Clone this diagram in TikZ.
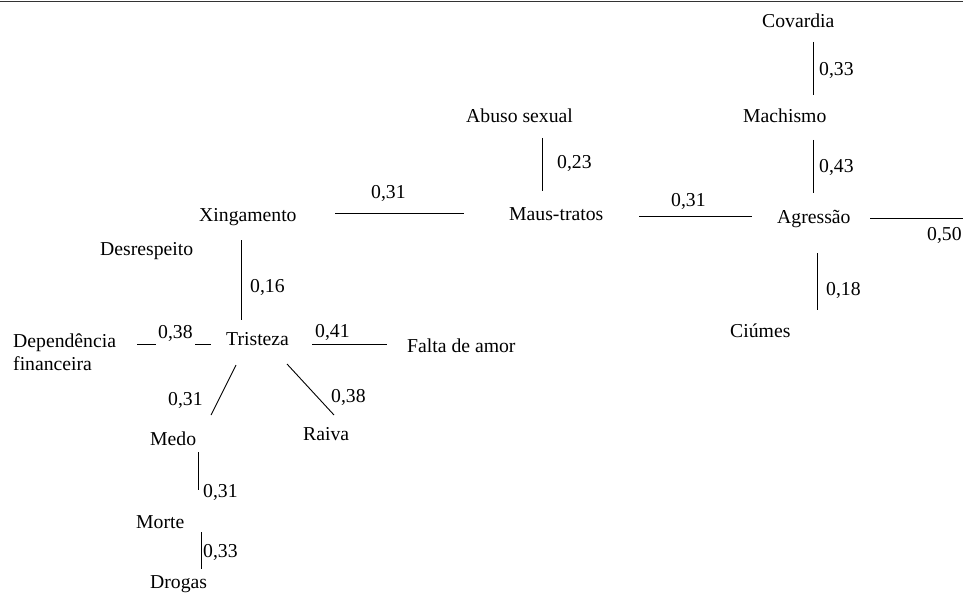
\documentclass[tikz,border=0pt]{standalone}
\usepackage{fontspec}
\setmainfont{Liberation Serif}
\usetikzlibrary{calc}
\tikzset{
  term/.style={anchor=base west, inner sep=0pt, font=\fontsize{19.7}{23}\selectfont},
  wt/.style={anchor=base west, inner sep=0pt, font=\fontsize{19.7}{23}\selectfont},
  link/.style={draw=black, line width=0.9pt},
  frameline/.style={draw=black!80, line width=1.6pt}
}
\begin{document}
\begin{tikzpicture}[x=1pt,y=-1pt]
\useasboundingbox (0,0) rectangle (963,596);
\draw[frameline] (0,1.5) -- (963,1.5);

% terms
\node[term] (cov)   at (762,28)  {Covardia};
\node[term] (mach)  at (743,123) {Machismo};
\node[term] (agr)   at (777,223) {Agressão};
\node[term] (ciu)   at (730,337) {Ciúmes};
\node[term] (abuso) at (466,123) {Abuso sexual};
\node[term] (maus)  at (509,220) {Maus-tratos};
\node[term] (xing)  at (199,221) {Xingamento};
\node[term] (desr)  at (100,255) {Desrespeito};
\node[term] (trist) at (226,345) {Tristeza};
\node[term, align=left] (dep) at (13,370) {Dependência\\financeira};
\node[term] (falta) at (407,352) {Falta de amor};
\node[term] (medo)  at (150,445) {Medo};
\node[term] (raiva) at (303,440) {Raiva};
\node[term] (morte) at (136,528) {Morte};
\node[term] (drog)  at (150,588) {Drogas};
\coordinate (edgeR) at (963,218);

% connectors
\draw[link] ([shift={(51,14)}]cov.base west) -- ([shift={(70,-28)}]mach.base west);
\draw[link] ([shift={(70,17)}]mach.base west) -- ([shift={(36,-30)}]agr.base west);
\draw[link] ([shift={(93,-5)}]agr.base west) -- (edgeR);
\draw[link] ([shift={(40,30)}]agr.base west) -- ([shift={(87,-27)}]ciu.base west);
\draw[link] ([shift={(130,-4)}]maus.base west) -- ([shift={(-25,-7)}]agr.base west);
\draw[link] ([shift={(76,15)}]abuso.base west) -- ([shift={(33,-29)}]maus.base west);
\draw[link] ([shift={(136,-8)}]xing.base west) -- ([shift={(-45,-7)}]maus.base west);
\draw[link] ([shift={(42,19)}]xing.base west) -- ([shift={(15,-25)}]trist.base west);
\draw[link] ([shift={(124,-26)}]dep.base west) -- ([shift={(-15,-1)}]trist.base west);
\draw[link] ([shift={(86,-1)}]trist.base west) -- ([shift={(-20,-8)}]falta.base west);
\draw[link] ([shift={(10,20)}]trist.base west) -- ([shift={(61,-30)}]medo.base west);
\draw[link] ([shift={(61,19)}]trist.base west) -- ([shift={(31,-25)}]raiva.base west);
\draw[link] ([shift={(48,7)}]medo.base west) -- ([shift={(62,-38)}]morte.base west);
\draw[link] ([shift={(65,4)}]morte.base west) -- ([shift={(51,-19)}]drog.base west);

% weights
\node[wt] (w1)  at (819,76)  {0,33};
\node[wt] (w2)  at (819,173) {0,43};
\node[wt] (w3)  at (927,240) {0,50};
\node[wt] (w4)  at (826,295) {0,18};
\node[wt] (w5)  at (671,207) {0,31};
\node[wt] (w6)  at (557,169) {0,23};
\node[wt] (w7)  at (371,199) {0,31};
\node[wt] (w8)  at (250,292) {0,16};
\node[wt, fill=white, inner xsep=2pt, text depth=8pt] (w9) at (156,338) {0,38};
\node[wt] (w10) at (315,337) {0,41};
\node[wt] (w11) at (168,405) {0,31};
\node[wt] (w12) at (331,402) {0,38};
\node[wt] (w13) at (203,497) {0,31};
\node[wt] (w14) at (203,557) {0,33};
\end{tikzpicture}
\end{document}
